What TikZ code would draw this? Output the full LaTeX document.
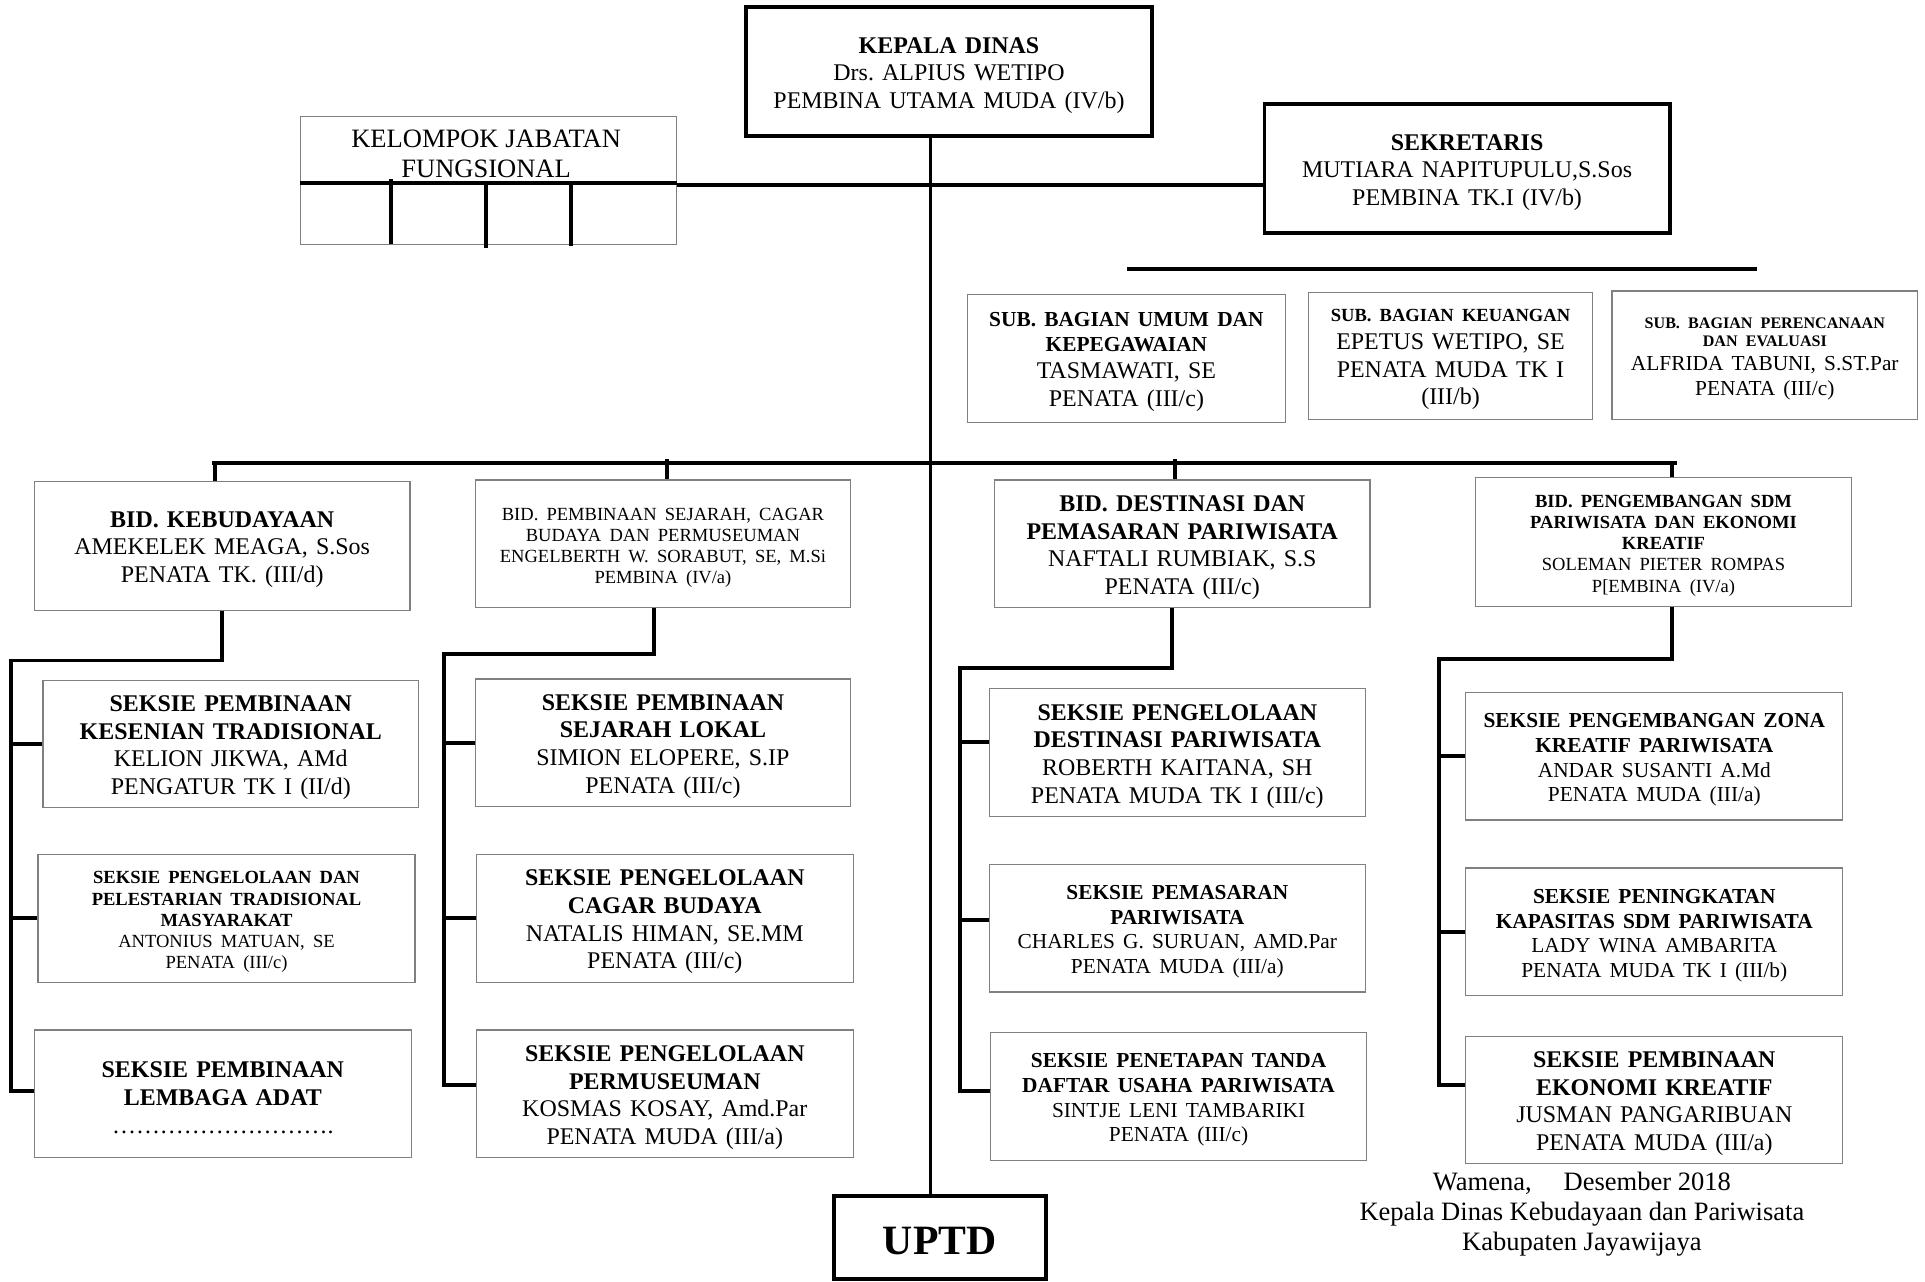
\documentclass[tikz,border=0pt]{standalone}
\usepackage{fontspec}
\setmainfont{Liberation Serif}
\setlength{\parindent}{0pt}
\frenchspacing
\definecolor{bgray}{HTML}{808080}
\newcommand\fA{\fontsize{9.75pt}{11.3pt}\selectfont}
\newcommand\fB{\fontsize{8.7pt}{10pt}\selectfont}
\newcommand\fC{\fontsize{7.55pt}{8.6pt}\selectfont}
\newcommand\fD{\fontsize{6.55pt}{7.2pt}\selectfont}
\newcommand\fE{\fontsize{10.8pt}{12.3pt}\selectfont}
\newcommand\fF{\fontsize{17pt}{19.5pt}\selectfont}
\newcommand\dotsix{…}
\newcommand{\orgbox}[7]{%
  \pgfmathsetmacro{\obw}{(#5-#3)*0.5}%
  \pgfmathsetmacro{\obh}{(#6-#4)*0.5}%
  \pgfmathsetmacro{\obt}{(#5-#3)*0.5-4}%
  \node[#1, minimum width=\obw pt, minimum height=\obh pt]
    (#2) at ({(#3+#5)/2},{(#4+#6)/2}) {};
  \node[boxtext, text width=\obt pt] (#2t) at ([yshift=-1.5pt]#2.center) {#7\par};}
\begin{document}
\begin{tikzpicture}[x=0.5pt,y=-0.5pt,
  thinbox/.style={draw=bgray, line width=0.5pt, inner sep=0pt},
  thickbox/.style={draw=black, line width=1.6pt, inner sep=0pt},
  boxtext/.style={inner sep=0pt, align=center},
  conn/.style={line width=1.6pt},
  vline/.style={line width=1.2pt}]
\useasboundingbox (0,0) rectangle (1568,1044);

% top level
\orgbox{thickbox}{kd}{608}{6}{938}{111}{\fA\bfseries KEPALA DINAS\par\mdseries Drs. ALPIUS WETIPO\par PEMBINA UTAMA MUDA (IV/b)}
\node[thinbox, minimum width=153pt, minimum height=52pt] (kjf) at (398,147) {};
\node[align=center, inner sep=0pt, font=\fE] (kjft) at (396,125) {KELOMPOK JABATAN\\FUNGSIONAL};
\orgbox{thickbox}{sek}{1030}{85}{1360}{190}{\fA\bfseries SEKRETARIS\par\mdseries MUTIARA NAPITUPULU,S.Sos\par PEMBINA TK.I (IV/b)}

% sub bagian
\orgbox{thinbox}{sa}{788}{240}{1047}{344}{\fB\bfseries SUB. BAGIAN UMUM DAN\par KEPEGAWAIAN\par\fA\mdseries TASMAWATI, SE\par PENATA (III/c)}
\orgbox{thinbox}{sb}{1066}{238}{1297}{342}{\fC\bfseries SUB. BAGIAN KEUANGAN\par\fA\mdseries EPETUS WETIPO, SE\par PENATA MUDA TK I\par (III/b)}
\orgbox{thinbox}{sc}{1313}{237}{1562}{342}{\fD\bfseries SUB. BAGIAN PERENCANAAN\par DAN EVALUASI\par\fB\mdseries ALFRIDA TABUNI, S.ST.Par\par PENATA (III/c)}

% bidang
\orgbox{thinbox}{b1}{28}{392}{334}{497}{\fA\bfseries BID. KEBUDAYAAN\par\mdseries AMEKELEK MEAGA, S.Sos\par PENATA TK. (III/d)}
\orgbox{thinbox}{b2}{387}{391}{693}{495}{\fC BID. PEMBINAAN SEJARAH, CAGAR\par BUDAYA DAN PERMUSEUMAN\par ENGELBERTH W. SORABUT, SE, M.Si\par PEMBINA (IV/a)}
\orgbox{thinbox}{b3}{810}{391}{1116}{495}{\fA\bfseries BID. DESTINASI DAN\par PEMASARAN PARIWISATA\par\mdseries NAFTALI RUMBIAK, S.S\par PENATA (III/c)}
\orgbox{thinbox}{b4}{1202}{389}{1508}{494}{\fC\bfseries BID. PENGEMBANGAN SDM\par PARIWISATA DAN EKONOMI\par KREATIF\par\mdseries SOLEMAN PIETER ROMPAS\par P[EMBINA (IV/a)}

% seksie column 1
\orgbox{thinbox}{s1}{35}{554}{341}{658}{\fA\bfseries SEKSIE PEMBINAAN\par KESENIAN TRADISIONAL\par\mdseries KELION JIKWA, AMd\par PENGATUR TK I (II/d)}
\orgbox{thinbox}{s2}{31}{696}{338}{800}{\fC\bfseries SEKSIE PENGELOLAAN DAN\par PELESTARIAN TRADISIONAL\par MASYARAKAT\par\mdseries ANTONIUS MATUAN, SE\par PENATA (III/c)}
\orgbox{thinbox}{s3}{28}{839}{335}{943}{\fA\bfseries SEKSIE PEMBINAAN\par LEMBAGA ADAT\par\mdseries \dotsix\dotsix\dotsix\dotsix\dotsix\dotsix\dotsix\dotsix\dotsix.}
% column 2
\orgbox{thinbox}{s4}{387}{553}{693}{657}{\fA\bfseries SEKSIE PEMBINAAN\par SEJARAH LOKAL\par\mdseries SIMION ELOPERE, S.IP\par PENATA (III/c)}
\orgbox{thinbox}{s5}{388}{696}{695}{800}{\fA\bfseries SEKSIE PENGELOLAAN\par CAGAR BUDAYA\par\mdseries NATALIS HIMAN, SE.MM\par PENATA (III/c)}
\orgbox{thinbox}{s6}{388}{839}{695}{943}{\fA\bfseries SEKSIE PENGELOLAAN\par PERMUSEUMAN\par\mdseries KOSMAS KOSAY, Amd.Par\par PENATA MUDA (III/a)}
% column 3
\orgbox{thinbox}{s7}{806}{561}{1112}{665}{\fA\bfseries SEKSIE PENGELOLAAN\par DESTINASI PARIWISATA\par\mdseries ROBERTH KAITANA, SH\par PENATA MUDA TK I (III/c)}
\orgbox{thinbox}{s8}{806}{704}{1112}{808}{\fB\bfseries SEKSIE PEMASARAN\par PARIWISATA\par\mdseries CHARLES G. SURUAN, AMD.Par\par PENATA MUDA (III/a)}
\orgbox{thinbox}{s9}{807}{841}{1113}{945}{\fB\bfseries SEKSIE PENETAPAN TANDA\par DAFTAR USAHA PARIWISATA\par\mdseries SINTJE LENI TAMBARIKI\par PENATA (III/c)}
% column 4
\orgbox{thinbox}{s10}{1194}{564}{1501}{668}{\fB\bfseries SEKSIE PENGEMBANGAN ZONA\par KREATIF PARIWISATA\par\mdseries ANDAR SUSANTI A.Md\par PENATA MUDA (III/a)}
\orgbox{thinbox}{s11}{1194}{707}{1501}{811}{\fB\bfseries SEKSIE PENINGKATAN\par KAPASITAS SDM PARIWISATA\par\mdseries LADY WINA AMBARITA\par PENATA MUDA TK I (III/b)}
\orgbox{thinbox}{s12}{1194}{844}{1501}{948}{\fA\bfseries SEKSIE PEMBINAAN\par EKONOMI KREATIF\par\mdseries JUSMAN PANGARIBUAN\par PENATA MUDA (III/a)}

% UPTD
\orgbox{thickbox}{uptd}{679}{974}{852}{1042}{\fF\bfseries UPTD}

% signature
\node[align=center, inner sep=0pt, font=\fE] (sig) at (1288.5,989) {Wamena,\hspace{13pt}Desember 2018\\Kepala Dinas Kebudayaan dan Pariwisata\\Kabupaten Jayawijaya};

% main vertical
\coordinate (mv) at (758,0);
\draw[vline] (mv |- kd.south) -- (mv |- uptd.north);

% kelompok jabatan fungsional inner lines and link to sekretaris
\coordinate (kL) at (245,149);
\draw[conn] (kL -| kjf.west) -- (kL -| kjf.east);
\draw[conn] (318.5,146) -- (318.5,199);
\draw[conn] (396,149) -- (396,202);
\draw[conn] (465,149) -- (465,200);
\coordinate (k2) at (551,150.5);
\draw[conn] (k2 -| kjf.east) -- (k2 -| sek.west);

% line under sekretaris
\draw[conn] (918,219) -- (1431,219);

% bus
\coordinate (busL) at (173,377);
\coordinate (busR) at (1366,377);
\draw[conn] (busL) -- (busR);
\coordinate (p1) at (175,377);
\coordinate (p2) at (543,374);
\coordinate (p3) at (957,374);
\coordinate (p4) at (1362,377);
\draw[conn] (p1) -- (p1 |- b1.north);
\draw[conn] (p2) -- (p2 |- b2.north);
\draw[conn] (p3) -- (p3 |- b3.north);
\draw[conn] (p4) -- (p4 |- b4.north);

% column 1
\coordinate (c1) at (9,538);
\coordinate (t3) at ([yshift=1.25pt]s3.west);
\draw[conn] (b1.south) |- (c1) |- (t3);
\draw[conn] (c1 |- s1.west) -- (s1.west);
\draw[conn] (c1 |- s2.west) -- (s2.west);

% column 2
\coordinate (d2) at (533,533);
\coordinate (c2) at (362,533);
\coordinate (t6) at ([yshift=3.5pt]s6.west);
\draw[conn] (d2 |- b2.south) -- (d2) -- (c2) |- (t6);
\draw[conn] (c2 |- s4.west) -- (s4.west);
\draw[conn] (c2 |- s5.west) -- (s5.west);

% column 3
\coordinate (d3) at (955,544);
\coordinate (c3) at (782,544);
\coordinate (t7) at ([yshift=4.2pt]s7.west);
\coordinate (t8) at ([yshift=3.5pt]s8.west);
\coordinate (t9) at ([yshift=2pt]s9.west);
\draw[conn] (d3 |- b3.south) -- (d3) -- (c3) |- (t9);
\draw[conn] (c3 |- t7) -- (t7);
\draw[conn] (c3 |- t8) -- (t8);

% column 4
\coordinate (d4) at (1362,537);
\coordinate (c4) at (1172,537);
\coordinate (t12) at ([yshift=6pt]s12.west);
\draw[conn] (d4 |- b4.south) -- (d4) -- (c4) |- (t12);
\draw[conn] (c4 |- s10.west) -- (s10.west);
\draw[conn] (c4 |- s11.west) -- (s11.west);
\end{tikzpicture}
\end{document}
